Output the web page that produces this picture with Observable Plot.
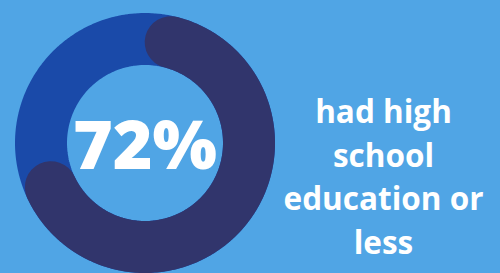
<!DOCTYPE html>
<html><head><meta charset="utf-8">
<script src="https://cdn.jsdelivr.net/npm/d3@7"></script>
<script src="https://cdn.jsdelivr.net/npm/@observablehq/plot@0.6"></script>
<style>html,body{margin:0;padding:0;background:#50a5e5;overflow:hidden;}</style>
</head><body><div id="chart"></div>
<script>
// data
const shareValue = [72];
const shareLabel = ["72%"];
const captionLines = ["had high", "school", "education or", "less"];

// geometry (pixels)
const W = 500, H = 273;
const cx = 144.5, cy = 142.5, midR = 104, band = 52;
const capAngle = (band / 2) / midR * 180 / Math.PI;

function arcPoints(a0, a1, n = 240) {
  return d3.range(n + 1).map(i => {
    const a = (a0 + (a1 - a0) * i / n) * Math.PI / 180;
    return {x: Math.sin(a), y: Math.cos(a)};
  });
}
const ring = arcPoints(0, 360);
const end = shareValue[0] / 100 * 360;
const arc = arcPoints(capAngle, end - capAngle);

const chart = Plot.plot({
  width: W, height: H,
  margin: 0,
  style: {background: "#50a5e5", overflow: "visible"},
  x: {domain: [-cx / midR, (W - cx) / midR], axis: null},
  y: {domain: [-(H - cy) / midR, cy / midR], axis: null},
  marks: [
    Plot.line(ring, {x: "x", y: "y", stroke: "#1a4aa9", strokeWidth: band, curve: "linear"}),
    Plot.line(arc, {x: "x", y: "y", stroke: "#31356c", strokeWidth: band, strokeLinecap: "round", curve: "linear"}),
    Plot.text(shareLabel, {x: 0, y: (cy - 168) / midR, text: d => d, fill: "white", fontSize: 68, fontWeight: 800, fontFamily: "Open Sans", textAnchor: "middle", lineAnchor: "bottom"}),
    Plot.text([captionLines.join("\n")], {x: (383 - cx) / midR, y: (cy - 253) / midR, text: d => d, fill: "white", fontSize: 31.5, fontWeight: 700, fontFamily: "Open Sans", textAnchor: "middle", lineAnchor: "bottom", lineHeight: 1.38})
  ]
});
document.getElementById("chart").append(chart);
</script>
</body></html>
